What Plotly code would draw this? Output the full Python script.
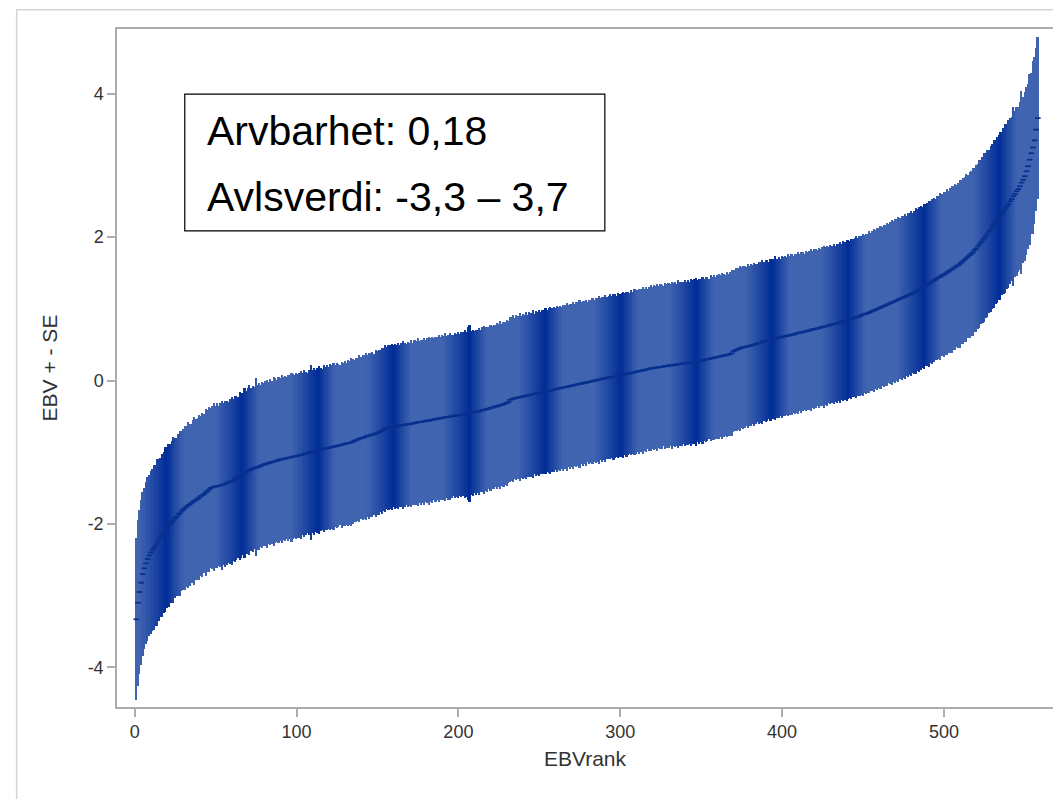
import plotly.graph_objects as go

# ---------------- data ----------------
ebv = [
    -3.33, -3.10, -2.95, -2.82, -2.70, -2.62, -2.55, -2.49, -2.44, -2.40,
    -2.36, -2.33, -2.30, -2.26, -2.22, -2.19, -2.16, -2.12, -2.08, -2.05,
    -2.02, -2.00, -1.97, -1.95, -1.92, -1.90, -1.87, -1.85, -1.82, -1.80,
    -1.78, -1.76, -1.74, -1.73, -1.71, -1.69, -1.68, -1.66, -1.65, -1.63,
    -1.61, -1.60, -1.58, -1.56, -1.54, -1.52, -1.50, -1.49, -1.48, -1.48,
    -1.47, -1.47, -1.46, -1.46, -1.45, -1.44, -1.43, -1.42, -1.41, -1.40,
    -1.39, -1.37, -1.36, -1.35, -1.33, -1.32, -1.31, -1.29, -1.28, -1.26,
    -1.25, -1.24, -1.23, -1.22, -1.21, -1.21, -1.20, -1.19, -1.18, -1.17,
    -1.16, -1.16, -1.15, -1.14, -1.14, -1.13, -1.12, -1.12, -1.11, -1.10,
    -1.10, -1.09, -1.09, -1.08, -1.08, -1.07, -1.07, -1.06, -1.06, -1.05,
    -1.05, -1.04, -1.04, -1.03, -1.02, -1.02, -1.01, -1.00, -1.00, -0.99,
    -0.99, -0.98, -0.97, -0.97, -0.96, -0.96, -0.95, -0.95, -0.94, -0.94,
    -0.93, -0.93, -0.92, -0.92, -0.91, -0.91, -0.90, -0.90, -0.89, -0.88,
    -0.88, -0.87, -0.87, -0.86, -0.85, -0.84, -0.83, -0.82, -0.81, -0.80,
    -0.80, -0.79, -0.78, -0.77, -0.77, -0.76, -0.75, -0.75, -0.74, -0.73,
    -0.72, -0.71, -0.70, -0.68, -0.67, -0.66, -0.66, -0.65, -0.65, -0.64,
    -0.64, -0.64, -0.63, -0.63, -0.62, -0.62, -0.62, -0.61, -0.61, -0.61,
    -0.60, -0.60, -0.59, -0.59, -0.58, -0.58, -0.58, -0.57, -0.57, -0.56,
    -0.56, -0.56, -0.55, -0.55, -0.54, -0.54, -0.53, -0.53, -0.53, -0.52,
    -0.52, -0.51, -0.51, -0.51, -0.50, -0.50, -0.49, -0.49, -0.49, -0.48,
    -0.48, -0.48, -0.47, -0.47, -0.47, -0.46, -0.46, -0.45, -0.45, -0.44,
    -0.44, -0.43, -0.43, -0.42, -0.41, -0.41, -0.40, -0.40, -0.39, -0.38,
    -0.38, -0.37, -0.36, -0.36, -0.35, -0.34, -0.34, -0.33, -0.32, -0.31,
    -0.30, -0.27, -0.26, -0.25, -0.25, -0.24, -0.24, -0.23, -0.23, -0.22,
    -0.22, -0.21, -0.21, -0.20, -0.20, -0.19, -0.19, -0.18, -0.18, -0.17,
    -0.17, -0.16, -0.16, -0.15, -0.15, -0.14, -0.14, -0.13, -0.13, -0.12,
    -0.12, -0.11, -0.11, -0.10, -0.10, -0.09, -0.09, -0.08, -0.08, -0.07,
    -0.07, -0.06, -0.06, -0.05, -0.05, -0.04, -0.04, -0.03, -0.03, -0.02,
    -0.02, -0.01, -0.01, 0.00, 0.00, 0.01, 0.01, 0.02, 0.02, 0.03,
    0.03, 0.04, 0.04, 0.05, 0.05, 0.05, 0.06, 0.06, 0.07, 0.07,
    0.08, 0.08, 0.09, 0.09, 0.10, 0.10, 0.11, 0.11, 0.12, 0.12,
    0.13, 0.13, 0.14, 0.14, 0.15, 0.15, 0.16, 0.16, 0.17, 0.17,
    0.18, 0.18, 0.18, 0.19, 0.19, 0.19, 0.20, 0.20, 0.20, 0.21,
    0.21, 0.21, 0.22, 0.22, 0.22, 0.23, 0.23, 0.23, 0.24, 0.24,
    0.24, 0.25, 0.25, 0.25, 0.26, 0.26, 0.26, 0.27, 0.27, 0.28,
    0.28, 0.29, 0.29, 0.30, 0.30, 0.31, 0.31, 0.32, 0.32, 0.33,
    0.33, 0.34, 0.34, 0.35, 0.35, 0.36, 0.36, 0.37, 0.38, 0.41,
    0.42, 0.43, 0.44, 0.45, 0.46, 0.46, 0.47, 0.47, 0.48, 0.48,
    0.49, 0.50, 0.50, 0.51, 0.52, 0.52, 0.53, 0.54, 0.55, 0.55,
    0.56, 0.56, 0.57, 0.58, 0.58, 0.59, 0.59, 0.60, 0.60, 0.61,
    0.61, 0.62, 0.62, 0.63, 0.63, 0.64, 0.64, 0.65, 0.66, 0.66,
    0.67, 0.67, 0.68, 0.68, 0.69, 0.69, 0.70, 0.71, 0.71, 0.72,
    0.72, 0.73, 0.73, 0.74, 0.75, 0.75, 0.76, 0.76, 0.77, 0.78,
    0.78, 0.79, 0.79, 0.80, 0.81, 0.81, 0.82, 0.83, 0.83, 0.84,
    0.85, 0.85, 0.86, 0.87, 0.88, 0.88, 0.89, 0.90, 0.91, 0.92,
    0.93, 0.93, 0.94, 0.95, 0.96, 0.97, 0.98, 0.99, 1.00, 1.01,
    1.02, 1.03, 1.04, 1.05, 1.06, 1.07, 1.08, 1.09, 1.10, 1.11,
    1.12, 1.13, 1.14, 1.15, 1.16, 1.17, 1.18, 1.19, 1.20, 1.21,
    1.22, 1.23, 1.25, 1.26, 1.27, 1.29, 1.30, 1.31, 1.33, 1.34,
    1.35, 1.37, 1.38, 1.40, 1.41, 1.43, 1.44, 1.45, 1.47, 1.48,
    1.49, 1.51, 1.52, 1.54, 1.55, 1.57, 1.58, 1.60, 1.61, 1.63,
    1.65, 1.67, 1.69, 1.71, 1.73, 1.75, 1.77, 1.79, 1.82, 1.84,
    1.87, 1.90, 1.93, 1.96, 1.99, 2.02, 2.05, 2.08, 2.11, 2.15,
    2.18, 2.21, 2.24, 2.27, 2.30, 2.33, 2.36, 2.40, 2.43, 2.46,
    2.50, 2.53, 2.57, 2.60, 2.64, 2.67, 2.71, 2.76, 2.80, 2.85,
    2.92, 2.99, 3.08, 3.17, 3.25, 3.35, 3.50, 3.66,
]

se = [
    1.13, 1.16, 1.14, 1.15, 1.14, 1.12, 1.13, 1.15, 1.12, 1.14,
    1.13, 1.15, 1.12, 1.16, 1.13, 1.11, 1.14, 1.12, 1.15, 1.12,
    1.14, 1.11, 1.13, 1.16, 1.12, 1.10, 1.13, 1.15, 1.11, 1.12,
    1.14, 1.12, 1.16, 1.13, 1.11, 1.14, 1.17, 1.12, 1.13, 1.15,
    1.12, 1.14, 1.11, 1.16, 1.13, 1.15, 1.12, 1.14, 1.17, 1.13,
    1.15, 1.12, 1.14, 1.18, 1.13, 1.16, 1.14, 1.12, 1.15, 1.17,
    1.13, 1.16, 1.14, 1.12, 1.17, 1.15, 1.13, 1.18, 1.14, 1.16,
    1.19, 1.14, 1.16, 1.13, 1.24, 1.15, 1.17, 1.13, 1.16, 1.14,
    1.15, 1.17, 1.13, 1.16, 1.14, 1.18, 1.15, 1.13, 1.16, 1.14,
    1.17, 1.14, 1.15, 1.13, 1.16, 1.14, 1.18, 1.15, 1.13, 1.16,
    1.14, 1.15, 1.17, 1.13, 1.16, 1.14, 1.12, 1.15, 1.22, 1.14,
    1.16, 1.13, 1.15, 1.17, 1.14, 1.12, 1.16, 1.14, 1.15, 1.13,
    1.16, 1.14, 1.17, 1.13, 1.15, 1.14, 1.12, 1.16, 1.14, 1.15,
    1.13, 1.16, 1.14, 1.17, 1.15, 1.13, 1.15, 1.14, 1.16, 1.13,
    1.15, 1.14, 1.17, 1.13, 1.16, 1.14, 1.15, 1.12, 1.16, 1.14,
    1.15, 1.13, 1.16, 1.14, 1.17, 1.13, 1.15, 1.14, 1.16, 1.13,
    1.15, 1.14, 1.16, 1.13, 1.15, 1.17, 1.14, 1.12, 1.15, 1.14,
    1.16, 1.13, 1.15, 1.14, 1.17, 1.13, 1.15, 1.14, 1.16, 1.13,
    1.15, 1.17, 1.14, 1.16, 1.13, 1.15, 1.14, 1.16, 1.13, 1.15,
    1.14, 1.17, 1.13, 1.15, 1.16, 1.14, 1.12, 1.15, 1.14, 1.16,
    1.13, 1.15, 1.14, 1.17, 1.15, 1.20, 1.24, 1.14, 1.16, 1.13,
    1.15, 1.14, 1.16, 1.13, 1.15, 1.17, 1.14, 1.15, 1.13, 1.16,
    1.14, 1.15, 1.13, 1.16, 1.14, 1.17, 1.13, 1.15, 1.14, 1.16,
    1.13, 1.15, 1.14, 1.16, 1.12, 1.15, 1.14, 1.17, 1.13, 1.15,
    1.14, 1.16, 1.13, 1.15, 1.14, 1.17, 1.12, 1.15, 1.14, 1.16,
    1.13, 1.15, 1.14, 1.16, 1.13, 1.15, 1.17, 1.14, 1.15, 1.13,
    1.16, 1.14, 1.15, 1.13, 1.16, 1.14, 1.17, 1.13, 1.15, 1.14,
    1.16, 1.13, 1.15, 1.14, 1.17, 1.13, 1.15, 1.14, 1.16, 1.12,
    1.15, 1.14, 1.16, 1.13, 1.15, 1.14, 1.17, 1.13, 1.15, 1.14,
    1.16, 1.13, 1.14, 1.15, 1.13, 1.16, 1.14, 1.12, 1.15, 1.13,
    1.14, 1.16, 1.13, 1.15, 1.14, 1.12, 1.15, 1.13, 1.16, 1.14,
    1.13, 1.15, 1.14, 1.16, 1.13, 1.15, 1.12, 1.14, 1.16, 1.13,
    1.15, 1.14, 1.16, 1.13, 1.15, 1.14, 1.12, 1.16, 1.14, 1.15,
    1.13, 1.16, 1.14, 1.15, 1.13, 1.17, 1.14, 1.15, 1.13, 1.16,
    1.14, 1.15, 1.13, 1.16, 1.14, 1.15, 1.17, 1.13, 1.15, 1.14,
    1.16, 1.13, 1.15, 1.14, 1.12, 1.16, 1.14, 1.15, 1.13, 1.14,
    1.15, 1.13, 1.16, 1.14, 1.12, 1.15, 1.13, 1.14, 1.16, 1.13,
    1.12, 1.14, 1.13, 1.15, 1.12, 1.14, 1.13, 1.11, 1.14, 1.12,
    1.13, 1.11, 1.14, 1.12, 1.10, 1.13, 1.12, 1.14, 1.11, 1.13,
    1.12, 1.10, 1.13, 1.11, 1.12, 1.14, 1.11, 1.12, 1.10, 1.13,
    1.11, 1.12, 1.10, 1.13, 1.11, 1.12, 1.09, 1.12, 1.11, 1.13,
    1.10, 1.12, 1.11, 1.09, 1.12, 1.10, 1.11, 1.13, 1.10, 1.12,
    1.11, 1.09, 1.12, 1.10, 1.11, 1.13, 1.10, 1.12, 1.09, 1.11,
    1.10, 1.12, 1.09, 1.11, 1.10, 1.12, 1.09, 1.11, 1.10, 1.12,
    1.11, 1.09, 1.12, 1.10, 1.11, 1.13, 1.10, 1.12, 1.11, 1.13,
    1.10, 1.12, 1.11, 1.13, 1.10, 1.12, 1.14, 1.11, 1.13, 1.12,
    1.14, 1.11, 1.13, 1.12, 1.14, 1.11, 1.13, 1.15, 1.12, 1.14,
    1.13, 1.15, 1.12, 1.14, 1.13, 1.15, 1.12, 1.14, 1.13, 1.15,
    1.12, 1.14, 1.16, 1.13, 1.15, 1.14, 1.12, 1.15, 1.13, 1.14,
    1.16, 1.13, 1.15, 1.14, 1.12, 1.15, 1.14, 1.16, 1.13, 1.15,
    1.14, 1.16, 1.13, 1.15, 1.17, 1.14, 1.16, 1.13, 1.15, 1.17,
    1.14, 1.16, 1.15, 1.17, 1.14, 1.16, 1.15, 1.17, 1.14, 1.16,
    1.15, 1.17, 1.14, 1.16, 1.18, 1.15, 1.17, 1.14, 1.16, 1.15,
    1.17, 1.14, 1.16, 1.15, 1.17, 1.14, 1.16, 1.18, 1.15, 1.17,
    1.16, 1.14, 1.25, 1.16, 1.18, 1.15, 1.17, 1.28, 1.16, 1.18,
    1.17, 1.15, 1.19, 1.12, 1.20, 1.16, 1.14, 1.13,
]

ebv_rank = list(range(1, len(ebv) + 1))
x_ticks = [0, 100, 200, 300, 400, 500]
y_ticks = [-4, -2, 0, 2, 4]
y_tick_text = ["-4", "-2", "0", "2", "4"]
box_lines = ["Arvbarhet: 0,18", "Avlsverdi: -3,3 \u2013 3,7"]
x_title = "EBVrank"
y_title = "EBV + - SE"

if len(se) != len(ebv):
    raise SystemExit(f"length mismatch ebv={len(ebv)} se={len(se)}")

lower = [e - s for e, s in zip(ebv, se)]
span = [2 * s for s in se]

# ---------------- style ----------------
LIGHT = (64, 100, 176)
DARK = (0, 44, 150)
BAND_PERIOD = 46.8
BAND_CENTER = 19.9


def band_color(r):
    d = (r - BAND_CENTER) % BAND_PERIOD
    if d > BAND_PERIOD / 2:
        d -= BAND_PERIOD
    if d < 0:
        t = max(0.0, 1 + d / 17.0)
    else:
        t = max(0.0, 1 - d / 11.0)
    t = t ** 1.1
    c = [round(l + (k - l) * t) for l, k in zip(LIGHT, DARK)]
    return f"rgb({c[0]},{c[1]},{c[2]})"


bar_colors = [band_color(r) for r in ebv_rank]

AXIS_COLOR = "#A9ADB1"
TEXT_COLOR = "#333333"
FONT = "Liberation Sans, Arial, sans-serif"

fig = go.Figure()
fig.add_trace(go.Bar(
    x=ebv_rank, y=span, base=lower, width=1.0,
    marker=dict(color=bar_colors, line=dict(width=0)),
    hoverinfo="skip",
))
fig.add_trace(go.Scatter(
    x=ebv_rank, y=ebv, mode="markers",
    marker=dict(symbol="line-ew", size=4, line=dict(width=1.8, color="#08308F")),
    hoverinfo="skip",
))

fig.update_layout(
    width=1053, height=799,
    margin=dict(l=117, r=0, t=29, b=92),
    paper_bgcolor="white", plot_bgcolor="white",
    showlegend=False, bargap=0,
    font=dict(family=FONT, color=TEXT_COLOR),
)
fig.update_xaxes(
    range=[-10.94, 567.4], tickvals=x_ticks,
    showline=True, mirror=True, linecolor=AXIS_COLOR, linewidth=1.5,
    ticks="outside", ticklen=8, tickwidth=1.5, tickcolor=AXIS_COLOR,
    showgrid=False, zeroline=False, automargin=False,
    tickfont=dict(family=FONT, size=18, color=TEXT_COLOR),
    title=dict(text=x_title, font=dict(family=FONT, size=21, color=TEXT_COLOR), standoff=10),
)
fig.update_yaxes(
    range=[-4.554, 4.903], tickvals=y_ticks, ticktext=y_tick_text,
    showline=True, mirror=False, linecolor=AXIS_COLOR, linewidth=1.5,
    ticks="outside", ticklen=8, tickwidth=1.5, tickcolor=AXIS_COLOR,
    showgrid=False, zeroline=False, automargin=False,
    tickfont=dict(family=FONT, size=18, color=TEXT_COLOR),
    title=dict(text=y_title, font=dict(family=FONT, size=21, color=TEXT_COLOR), standoff=24),
)

# outer light frame of the graph image
fig.add_shape(type="rect", xref="paper", yref="paper",
              x0=-0.1072, x1=1.3, y0=-0.3, y1=1.0285,
              line=dict(color="#D4D4D4", width=1.5), fillcolor="rgba(0,0,0,0)",
              layer="below")

# text box
fig.add_shape(type="rect", xref="paper", yref="paper",
              x0=0.0724, x1=0.5212, y0=0.7022, y1=0.9040,
              line=dict(color="black", width=1.2), fillcolor="white", layer="above")
for txt, yp in zip(box_lines, [0.8499, 0.752]):
    fig.add_annotation(text=txt, xref="paper", yref="paper", x=0.0937, y=yp,
                       xanchor="left", yanchor="middle", showarrow=False,
                       font=dict(family=FONT, size=41, color="black"))

fig.write_html("out.html")
